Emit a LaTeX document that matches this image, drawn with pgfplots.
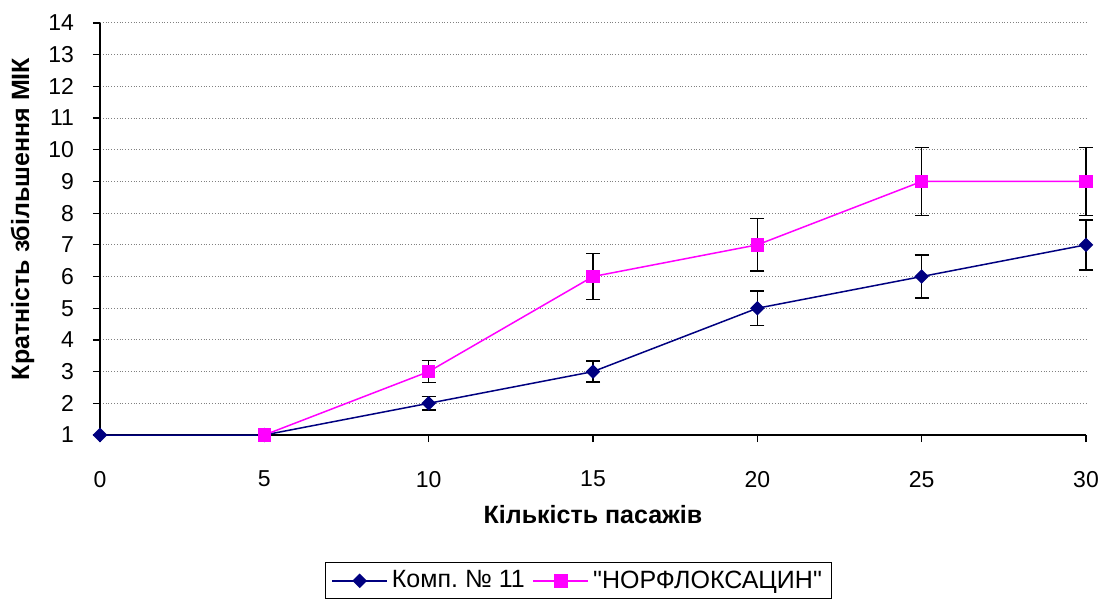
\documentclass[border=0pt]{standalone}
\usepackage{pgfplots}
\pgfplotsset{compat=1.18}
\usepackage{fontspec}
\setmainfont{Liberation Sans}[Ligatures=TeXOff]
\definecolor{navyb}{RGB}{0,0,128}
\definecolor{pinkm}{RGB}{255,0,255}
\begin{document}
\begin{tikzpicture}
\begin{axis}[
  scale only axis,
  width=493pt, height=206pt,
  xmin=0, xmax=30, ymin=1, ymax=14,
  xtick={0,5,...,30}, ytick={1,2,...,14},
  axis x line*=bottom, axis y line*=left,
  axis line style={black, line width=0.6pt},
  tick align=outside, major tick length=3.5pt,
  tick style={black, line width=0.6pt},
  ymajorgrids, major grid style={gray, densely dotted, line width=0.5pt},
  clip=false,
  /pgf/number format/assume math mode=true,
  ticklabel style={font=\fontsize{11.5}{13}\selectfont},
  xticklabel style={anchor=north, yshift=-11pt},
  yticklabel style={anchor=east, xshift=-6pt},
  xlabel={Кількість пасажів},
  ylabel={Кратність збільшення МІК},
  label style={font=\fontsize{12.5}{14}\selectfont\bfseries},
  xlabel style={at={(axis description cs:0.5,0)}, anchor=center, yshift=-40pt},
  ylabel style={at={(axis description cs:0,0.5)}, anchor=center, yshift=38.75pt, xshift=5pt},
  legend columns=2,
  legend style={at={(axis description cs:0.228,0)}, anchor=north west, yshift=-63.5pt,
    draw=black, line width=0.6pt, font=\fontsize{12.5}{14}\selectfont,
    inner xsep=3pt,
    /tikz/every even column/.append style={column sep=2pt}},
  legend image code/.code={\draw[mark repeat=2,mark phase=2,#1]
      plot coordinates {(0pt,0pt) (13.75pt,0pt) (27.5pt,0pt)};},
]
\coordinate (bl) at (rel axis cs:0,0);
\coordinate (tr) at (rel axis cs:1,1);
\addplot[navyb, line width=0.75pt, mark=square*, mark size=2.2pt,
  mark options={fill=navyb, draw=navyb, rotate=45},
  error bars/.cd, y dir=both, y explicit,
  error bar style={black, line width=0.75pt},
  error mark options={rotate=90, mark size=3.5pt, black, line width=0.75pt}]
coordinates {
 (0,1) +- (0,0)
 (5,1) +- (0,0)
 (10,2) +- (0,0.21)
 (15,3) +- (0,0.33)
 (20,5) +- (0,0.55)
 (25,6) +- (0,0.68)
 (30,7) +- (0,0.79)
};
\addlegendentry{Комп.\ № 11}
\addplot[pinkm, line width=0.75pt, mark=square*, mark size=3pt,
  mark options={fill=pinkm, draw=pinkm},
  error bars/.cd, y dir=both, y explicit,
  error bar style={black, line width=0.75pt},
  error mark options={rotate=90, mark size=3.5pt, black, line width=0.75pt}]
coordinates {
 (5,1) +- (0,0)
 (10,3) +- (0,0.35)
 (15,6) +- (0,0.72)
 (20,7) +- (0,0.83)
 (25,9) +- (0,1.07)
 (30,9) +- (0,1.07)
};
\addlegendentry{"НОРФЛОКСАЦИН"}
\end{axis}
\pgfresetboundingbox
\path ([shift={(-50pt,-82pt)}]bl) rectangle ([shift={(8pt,11.5pt)}]tr);
\end{tikzpicture}
\end{document}
